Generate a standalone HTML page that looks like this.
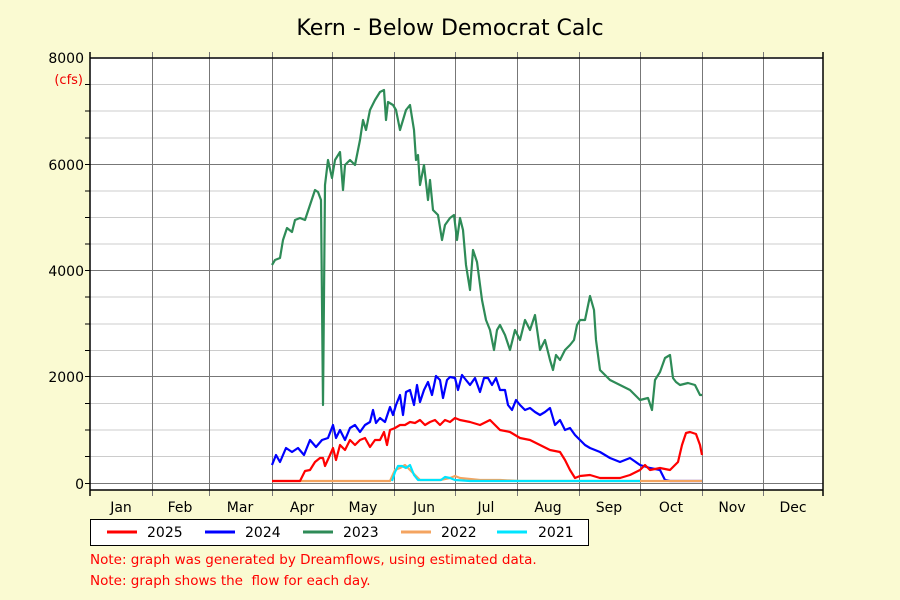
<!DOCTYPE html>
<html><head><meta charset="utf-8"><style>
body{margin:0;background:#fafad2;}
svg{display:block;font-family:"DejaVu Sans","Liberation Sans",sans-serif;}
</style></head><body>
<svg width="900" height="600" viewBox="0 0 900 600">
<rect width="900" height="600" fill="#fafad2"/>
<rect x="90" y="57" width="733" height="433" fill="#fff"/>
<g stroke="#ccc" stroke-width="1">
<line x1="90" y1="84.5" x2="823" y2="84.5"/><line x1="90" y1="111" x2="823" y2="111"/><line x1="90" y1="138" x2="823" y2="138"/>
<line x1="90" y1="191" x2="823" y2="191"/><line x1="90" y1="217.5" x2="823" y2="217.5"/><line x1="90" y1="244" x2="823" y2="244"/>
<line x1="90" y1="297" x2="823" y2="297"/><line x1="90" y1="324" x2="823" y2="324"/><line x1="90" y1="350.5" x2="823" y2="350.5"/>
<line x1="90" y1="403.5" x2="823" y2="403.5"/><line x1="90" y1="430" x2="823" y2="430"/><line x1="90" y1="456.5" x2="823" y2="456.5"/>
</g>
<g stroke="#777" stroke-width="1">
<line x1="90" y1="164.5" x2="823" y2="164.5"/><line x1="90" y1="270.5" x2="823" y2="270.5"/><line x1="90" y1="376.5" x2="823" y2="376.5"/><line x1="90" y1="483.5" x2="823" y2="483.5"/>
<line x1="152.5" y1="52" x2="152.5" y2="496"/><line x1="209.5" y1="52" x2="209.5" y2="496"/><line x1="272.5" y1="52" x2="272.5" y2="496"/><line x1="332.5" y1="52" x2="332.5" y2="496"/><line x1="394.5" y1="52" x2="394.5" y2="496"/><line x1="455.5" y1="52" x2="455.5" y2="496"/><line x1="517.5" y1="52" x2="517.5" y2="496"/><line x1="579.5" y1="52" x2="579.5" y2="496"/><line x1="640.5" y1="52" x2="640.5" y2="496"/><line x1="702.5" y1="52" x2="702.5" y2="496"/><line x1="763.5" y1="52" x2="763.5" y2="496"/>
</g>
<g stroke="#000" stroke-width="1.5" fill="none">
<line x1="90" y1="58" x2="823" y2="58"/><line x1="90" y1="490" x2="823" y2="490"/>
<line x1="90" y1="52" x2="90" y2="496"/><line x1="823" y1="52" x2="823" y2="496"/>
</g>
<g stroke="#000" stroke-width="1">
<line x1="85" y1="84.5" x2="90" y2="84.5"/><line x1="85" y1="111" x2="90" y2="111"/><line x1="85" y1="138" x2="90" y2="138"/><line x1="85" y1="164.5" x2="90" y2="164.5"/><line x1="85" y1="191" x2="90" y2="191"/><line x1="85" y1="217.5" x2="90" y2="217.5"/><line x1="85" y1="244" x2="90" y2="244"/><line x1="85" y1="270.5" x2="90" y2="270.5"/><line x1="85" y1="297" x2="90" y2="297"/><line x1="85" y1="324" x2="90" y2="324"/><line x1="85" y1="350.5" x2="90" y2="350.5"/><line x1="85" y1="376.5" x2="90" y2="376.5"/><line x1="85" y1="403.5" x2="90" y2="403.5"/><line x1="85" y1="430" x2="90" y2="430"/><line x1="85" y1="456.5" x2="90" y2="456.5"/><line x1="85" y1="483.5" x2="90" y2="483.5"/>
</g>
<g font-size="14" fill="#000" text-anchor="end">
<text x="84" y="63">8000</text><text x="84" y="170">6000</text><text x="84" y="276">4000</text><text x="84" y="382">2000</text><text x="84" y="489">0</text>
</g>
<text x="83" y="84" font-size="13" fill="#e00" text-anchor="end">(cfs)</text>
<g font-size="14" fill="#000" text-anchor="middle">
<text x="121" y="512">Jan</text><text x="180" y="512">Feb</text><text x="240" y="512">Mar</text><text x="302" y="512">Apr</text><text x="363" y="512">May</text><text x="424" y="512">Jun</text><text x="486" y="512">Jul</text><text x="548" y="512">Aug</text><text x="609" y="512">Sep</text><text x="671" y="512">Oct</text><text x="732" y="512">Nov</text><text x="793" y="512">Dec</text>
</g>
<text x="450" y="35" font-size="22" text-anchor="middle" fill="#000">Kern - Below Democrat Calc</text>
<g fill="none" stroke-width="2.2" stroke-linejoin="round">
<polyline stroke="#2e8b57" points="272,265 275,260 280,258 283,240 287,228 292,232 295,220 300,218 305,220 310,205 315,190 318,192 321,200 323,405 325,185 328,160 332,178 335,160 340,152 343,190 345,165 350,160 355,165 360,140 363,120 366,130 370,110 375,100 380,92 384,90 386,120 388,102 393,105 396,110 400,130 403,120 406,110 410,105 414,130 416,160 418,155 420,185 424,165 428,200 430,180 433,210 438,215 442,240 445,225 450,218 454,215 457,240 460,218 463,230 466,265 470,290 473,250 477,262 482,300 486,320 490,330 494,350 497,330 500,325 505,335 510,350 515,330 520,340 525,320 530,330 535,315 540,350 545,340 550,360 553,370 556,355 560,360 565,350 570,345 574,340 577,325 580,320 585,320 590,296 594,310 596,340 600,370 605,375 610,380 620,385 630,390 640,400 648,398 652,410 655,380 660,372 665,358 670,355 673,378 676,382 680,385 688,383 695,385 700,395 702,395"/>
<polyline stroke="#00f" points="272,465 276,455 280,462 286,448 292,452 298,448 304,455 310,440 316,447 322,440 328,438 333,425 336,438 340,430 345,440 350,428 355,425 360,432 365,425 370,422 373,410 376,423 380,418 385,422 390,407 393,415 396,405 400,395 403,415 406,392 410,390 414,405 417,385 420,402 424,390 428,382 432,395 436,376 440,380 443,398 447,380 450,377 455,378 458,390 462,375 466,380 470,385 475,378 480,392 484,378 488,378 492,385 496,378 500,390 505,390 508,405 512,410 516,400 520,405 525,410 530,408 535,412 540,415 545,412 550,408 555,425 560,420 565,430 570,428 575,435 580,440 585,445 590,448 600,452 610,458 620,462 630,458 640,465 650,468 660,470 665,480 670,481 702,481"/>
<polyline stroke="#f4a460" points="272,481 390,481 395,470 400,468 405,465 410,470 415,475 420,480 440,480 450,478 455,476 460,478 470,479 480,480 500,480 520,481 600,481 702,481"/>
<polyline stroke="#00e5ff" points="392,481 395,472 398,466 402,466 406,468 410,465 414,475 418,480 430,480 441,480 445,477 450,478 455,480 470,481 500,481 600,481 640,481"/>
<polyline stroke="#f00" points="272,481 300,481 305,471 310,470 315,462 320,458 323,458 325,466 330,455 333,448 336,460 340,445 345,450 350,440 355,445 360,440 365,438 370,447 375,440 380,440 384,432 387,445 390,430 395,428 400,425 405,425 410,422 415,423 420,420 425,425 430,422 435,420 440,425 445,420 450,422 455,418 460,420 470,422 480,425 490,420 500,430 510,432 520,438 530,440 540,445 550,450 560,452 565,460 570,470 575,478 580,476 590,475 600,478 610,478 620,478 630,475 640,470 645,465 650,470 660,468 670,470 675,465 678,462 682,445 686,433 690,432 696,434 700,445 702,455"/>
</g>
<rect x="90.5" y="519.5" width="498" height="26" fill="#fff" stroke="#000"/>
<g stroke-width="3">
<line x1="107" y1="532" x2="137" y2="532" stroke="#f00"/><line x1="205" y1="532" x2="235" y2="532" stroke="#00f"/><line x1="303" y1="532" x2="333" y2="532" stroke="#2e8b57"/><line x1="401" y1="532" x2="431" y2="532" stroke="#f4a460"/><line x1="497" y1="532" x2="527" y2="532" stroke="#00e5ff"/>
</g>
<g font-size="14" fill="#000">
<text x="147" y="537">2025</text><text x="245" y="537">2024</text><text x="343" y="537">2023</text><text x="441" y="537">2022</text><text x="538" y="537">2021</text>
</g>
<g font-size="13.5" fill="#f00">
<text x="90" y="564">Note: graph was generated by Dreamflows, using estimated data.</text>
<text x="90" y="585" xml:space="preserve">Note: graph shows the  flow for each day.</text>
</g>
</svg>
</body></html>
